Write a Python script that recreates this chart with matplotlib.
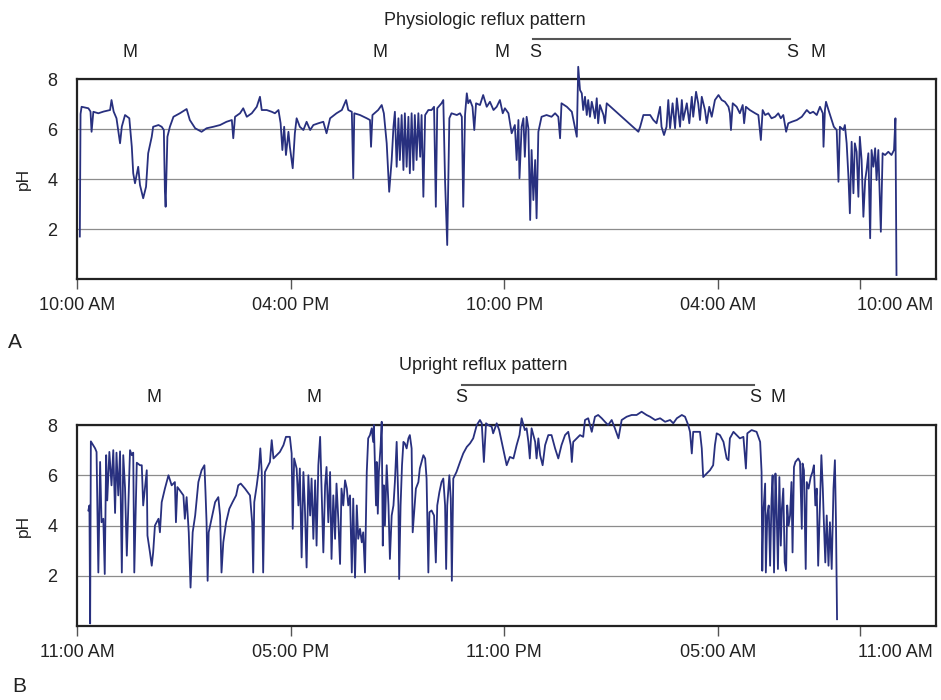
import matplotlib
matplotlib.use("Agg")
import matplotlib.pyplot as plt

plt.rcParams['font.family'] = ['Liberation Sans', 'DejaVu Sans']

############## Data: panel A (physiologic reflux) ##############
# hours since start of recording, pH
hours_a = [
    0.08, 0.10, 0.13, 0.32, 0.38, 0.41, 0.46, 0.60, 0.75, 0.93,
    0.97, 1.03, 1.11, 1.21, 1.26, 1.35, 1.47, 1.54, 1.58, 1.63,
    1.72, 1.77, 1.86, 1.94, 2.00, 2.10, 2.14, 2.29, 2.38, 2.44,
    2.47, 2.49, 2.54, 2.61, 2.71, 2.89, 3.08, 3.17, 3.32, 3.50,
    3.64, 3.83, 4.02, 4.20, 4.35, 4.39, 4.44, 4.58, 4.67, 4.77,
    4.91, 5.05, 5.14, 5.19, 5.33, 5.47, 5.56, 5.66, 5.72, 5.77,
    5.82, 5.87, 5.94, 5.98, 6.06, 6.12, 6.17, 6.26, 6.36, 6.45,
    6.55, 6.64, 6.78, 6.92, 7.01, 7.11, 7.29, 7.44, 7.56, 7.62,
    7.72, 7.76, 7.79,
    7.95, 8.14, 8.23, 8.26, 8.30, 8.46, 8.56, 8.62, 8.70, 8.77,
    8.84, 8.89, 8.93, 8.98, 9.03, 9.07, 9.12, 9.17, 9.21, 9.26,
    9.31, 9.35, 9.40, 9.45, 9.49, 9.54, 9.59, 9.64, 9.68, 9.73,
    9.78, 9.87, 9.96, 10.03, 10.08, 10.12, 10.24, 10.29, 10.34, 10.40,
    10.46, 10.52, 10.67, 10.76, 10.81, 10.85, 10.90, 10.95, 10.99, 11.04,
    11.11, 11.16, 11.21, 11.32, 11.41, 11.51, 11.60, 11.70, 11.79, 11.88,
    11.96, 12.02, 12.12, 12.21, 12.30, 12.35, 12.40, 12.43, 12.49, 12.54,
    12.58, 12.63, 12.68, 12.73, 12.77, 12.82, 12.87, 12.91, 12.96, 13.05,
    13.19, 13.33, 13.43, 13.52, 13.57, 13.61, 13.76, 13.90, 14.04, 14.08,
    14.13, 14.18, 14.22, 14.27, 14.32, 14.36, 14.41, 14.46, 14.50, 14.55,
    14.60, 14.64, 14.69, 14.79, 14.83, 14.88, 15.77, 15.82, 15.91,
    16.10, 16.19, 16.28, 16.38, 16.42, 16.49, 16.56, 16.61, 16.66, 16.73,
    16.80, 16.85, 16.94, 16.99, 17.03, 17.13, 17.20, 17.27, 17.31, 17.39,
    17.45, 17.50, 17.55, 17.64, 17.69, 17.76, 17.83, 17.92, 18.02, 18.11,
    18.20, 18.30, 18.34, 18.37, 18.42, 18.53, 18.62, 18.70, 18.74, 18.79,
    18.90, 19.05, 19.14, 19.21, 19.26, 19.33, 19.42, 19.51, 19.61, 19.70,
    19.77, 19.84, 19.92, 19.98, 20.08, 20.22, 20.36, 20.50, 20.59, 20.68,
    20.78, 20.87, 20.95, 20.97, 21.01, 21.04, 21.11, 21.20, 21.26, 21.34,
    21.39, 21.43, 21.53, 21.57, 21.62, 21.67, 21.71, 21.76, 21.81, 21.85,
    21.90, 21.95, 21.99, 22.04, 22.09, 22.14, 22.18, 22.23, 22.28, 22.32,
    22.37, 22.42, 22.46, 22.51, 22.58, 22.63, 22.70, 22.79, 22.88, 22.95,
    22.99, 23.02,
]
ph_a = [
    1.70, 6.60, 6.89, 6.83, 6.70, 5.89, 6.69, 6.63, 6.70, 6.76,
    7.16, 6.70, 6.43, 5.43, 6.10, 6.56, 6.43, 5.29, 4.23, 3.83,
    4.49, 3.76, 3.23, 3.69, 5.03, 5.69, 6.09, 6.16, 6.09, 5.96,
    3.50, 2.89, 5.69, 6.09, 6.49, 6.63, 6.80, 6.36, 6.03, 5.89,
    6.03, 6.09, 6.16, 6.29, 6.36, 5.63, 6.49, 6.63, 6.83, 6.49,
    6.63, 6.89, 7.29, 6.76, 6.76, 6.69, 6.63, 6.76, 6.23, 5.16,
    6.09, 4.96, 5.89, 5.29, 4.43, 5.83, 6.43, 6.09, 5.96, 6.29,
    5.96, 6.16, 6.23, 6.29, 5.83, 6.43, 6.63, 6.76, 7.16, 6.76,
    6.69, 4.03, 6.63,
    6.56, 6.43, 6.36, 5.29, 6.56, 6.76, 6.96, 6.63, 5.43, 3.49,
    4.76, 6.09, 6.69, 4.49, 6.43, 4.76, 6.56, 4.36, 6.63, 4.49,
    6.49, 4.23, 6.63, 4.36, 6.56, 4.76, 6.63, 4.89, 6.56, 3.29,
    6.56, 6.76, 6.76, 6.89, 2.89, 6.83, 7.03, 7.16, 3.89, 1.36,
    6.43, 6.63, 6.56, 6.63, 6.49, 2.89, 6.56, 7.43, 7.03, 7.16,
    6.89, 5.96, 7.03, 6.96, 7.36, 6.89, 7.09, 6.76, 6.89, 7.16,
    6.63, 6.83, 6.63, 5.83, 6.16, 4.76, 6.36, 4.03, 6.09, 6.43,
    4.89, 6.49, 6.03, 2.36, 5.16, 3.16, 4.76, 2.43, 5.89, 6.49,
    6.56, 6.49, 6.63, 6.49, 5.63, 7.03, 6.89, 6.69, 5.69, 8.49,
    7.56, 7.43, 6.76, 7.29, 6.56, 7.16, 6.49, 7.09, 6.83, 6.43,
    7.23, 6.23, 6.96, 6.56, 6.23, 7.03, 5.89, 6.09, 6.56,
    6.56, 6.36, 6.23, 6.89, 6.09, 5.76, 6.09, 7.16, 6.03, 7.03,
    6.03, 7.23, 6.09, 7.16, 6.36, 7.03, 6.23, 7.29, 6.49, 7.49,
    7.03, 6.36, 7.29, 6.76, 6.23, 6.89, 6.49, 7.16, 7.36, 7.16,
    7.09, 6.89, 6.63, 5.96, 7.03, 6.89, 6.63, 6.96, 6.23, 6.89,
    6.76, 6.63, 6.56, 5.56, 6.76, 6.56, 6.63, 6.43, 6.49, 6.63,
    6.43, 6.56, 5.89, 6.23, 6.29, 6.36, 6.49, 6.76, 6.63, 6.69,
    6.56, 6.89, 6.63, 5.29, 6.76, 7.09, 6.76, 6.36, 6.09, 5.96,
    3.89, 6.09, 5.96, 6.16, 5.43, 4.09, 2.63, 5.49, 3.43, 5.43,
    5.09, 3.29, 5.69, 4.76, 2.49, 3.96, 4.36, 5.03, 1.63, 5.16,
    4.49, 5.23, 3.96, 5.16, 1.89, 5.03, 4.96, 5.09, 4.96, 5.16,
    6.43, 0.16,
]

############## Data: panel B (upright reflux) ##############
hours_b = [
    0.32, 0.35, 0.37, 0.39, 0.51, 0.55, 0.60, 0.65, 0.69, 0.74,
    0.78, 0.82, 0.85, 0.91, 0.97, 1.02, 1.07, 1.11, 1.16, 1.21,
    1.26, 1.30, 1.35, 1.40, 1.49, 1.54, 1.58, 1.61, 1.68, 1.77,
    1.82, 1.86, 1.96, 1.98, 2.05, 2.10, 2.14, 2.19, 2.29, 2.33,
    2.38, 2.47, 2.57, 2.66, 2.75, 2.78, 2.82, 2.89, 2.99, 3.03,
    3.08, 3.14, 3.19, 3.25, 3.32, 3.41, 3.50, 3.58, 3.61, 3.64,
    3.67, 3.70, 3.78, 3.88, 3.97, 4.02, 4.06, 4.11, 4.19, 4.28,
    4.37, 4.47, 4.53, 4.60, 4.72, 4.86, 4.92, 4.95, 4.98, 5.05,
    5.11, 5.15, 5.19, 5.23, 5.28, 5.42, 5.47, 5.52, 5.61, 5.70,
    5.80, 5.87, 5.98, 6.03, 6.06, 6.10, 6.17, 6.22, 6.26, 6.31,
    6.36, 6.40, 6.45, 6.50, 6.55, 6.59, 6.64, 6.69, 6.73, 6.78,
    6.83, 6.87, 6.92, 6.97, 7.01, 7.06, 7.11, 7.15, 7.20, 7.25,
    7.29, 7.34, 7.39, 7.43, 7.48, 7.53, 7.58, 7.62, 7.67, 7.72,
    7.76, 7.81, 7.86, 7.90, 7.95,
    8.00, 8.04, 8.09, 8.14, 8.18, 8.23, 8.28, 8.32, 8.34, 8.37,
    8.40, 8.42, 8.45, 8.48, 8.53, 8.56, 8.59, 8.62, 8.65, 8.70,
    8.75, 8.79, 8.84, 8.89, 8.93, 8.98, 9.03, 9.05, 9.09, 9.13,
    9.17, 9.21, 9.26, 9.31, 9.35, 9.40, 9.43, 9.47, 9.52, 9.59,
    9.63, 9.73, 9.78, 9.82, 9.87, 9.90, 9.96, 10.03, 10.08, 10.12,
    10.18, 10.24, 10.29, 10.34, 10.37, 10.40, 10.46, 10.50, 10.53, 10.57,
    10.66, 10.76, 10.85, 10.95, 11.04, 11.13, 11.23, 11.32, 11.37, 11.43,
    11.49, 11.55, 11.65, 11.69, 11.79, 11.86, 11.93, 11.99, 12.07, 12.16,
    12.26, 12.35, 12.43, 12.49, 12.54, 12.58, 12.63, 12.68, 12.72, 12.77,
    12.82, 12.87, 12.91, 12.96, 13.01, 13.08, 13.15, 13.24, 13.33, 13.43,
    13.52, 13.61, 13.71, 13.80, 13.87, 13.90, 13.94, 14.04, 14.13, 14.22,
    14.27, 14.36, 14.46, 14.55, 14.64, 14.74, 14.83, 14.92, 15.02, 15.11,
    15.21, 15.30, 15.44, 15.58, 15.72, 15.86, 16.00,
    16.10, 16.24, 16.38, 16.52, 16.66, 16.75, 16.85, 16.99, 17.08, 17.17,
    17.22, 17.27, 17.31, 17.50, 17.55, 17.59, 17.69, 17.78, 17.87, 17.92,
    17.97, 18.06, 18.16, 18.25, 18.30, 18.34, 18.44, 18.53, 18.62, 18.72,
    18.79, 18.83, 18.95, 19.09, 19.19, 19.23, 19.25, 19.28, 19.33, 19.35,
    19.39, 19.43, 19.47, 19.51, 19.54, 19.58, 19.62, 19.65, 19.69, 19.73,
    19.77, 19.80, 19.84, 19.88, 19.92, 19.95, 19.99, 20.03, 20.07, 20.10,
    20.14, 20.18, 20.22, 20.26, 20.31, 20.36, 20.38, 20.42, 20.47, 20.50,
    20.55, 20.61, 20.66, 20.70, 20.74, 20.78, 20.82, 20.87, 20.91, 20.95,
    20.98, 21.02, 21.06, 21.11, 21.15, 21.20, 21.25, 21.29, 21.32, 21.35,
]
ph_b = [
    4.60, 4.80, 0.10, 7.35, 7.07, 6.93, 2.13, 6.53, 4.13, 4.27,
    2.07, 6.80, 5.00, 6.93, 5.60, 7.00, 4.50, 6.90, 5.20, 6.95,
    2.13, 6.80, 5.50, 2.80, 7.00, 6.80, 6.90, 2.13, 6.50, 6.40,
    6.40, 4.80, 6.20, 3.60, 2.93, 2.40, 2.93, 4.00, 4.27, 3.73,
    4.93, 5.47, 6.00, 5.60, 5.73, 4.13, 5.53, 5.40, 5.20, 4.27,
    5.13, 3.73, 1.53, 3.73, 4.40, 5.73, 6.20, 6.40, 5.33, 4.13,
    1.80, 3.73, 4.27, 4.93, 5.13, 4.40, 2.13, 3.33, 4.13, 4.67,
    4.93, 5.20, 5.60, 5.67, 5.47, 5.20, 4.13, 2.13, 4.93, 5.60,
    6.27, 7.07, 6.13, 2.13, 6.13, 6.53, 7.40, 6.67, 6.80, 6.93,
    7.20, 7.53, 7.53, 6.87, 3.87, 6.67, 6.27, 4.80, 6.27, 2.73,
    6.13, 4.80, 2.33, 6.00, 4.40, 5.87, 3.47, 5.80, 3.20, 6.40,
    7.53, 5.47, 2.93, 5.60, 6.33, 4.13, 6.13, 2.67, 5.20, 3.47,
    5.67, 4.27, 2.47, 5.47, 4.80, 5.80, 5.47, 4.80, 5.20, 2.13,
    5.07, 1.93, 4.80, 3.47, 3.87,
    3.33, 3.73, 2.13, 6.13, 7.47, 7.60, 7.87, 7.33, 8.00, 6.40,
    4.80, 6.53, 4.47, 6.13, 7.20, 8.13, 3.20, 5.60, 4.00, 6.40,
    4.80, 2.67, 4.40, 4.80, 5.73, 7.33, 4.80, 1.87, 4.80, 6.40,
    7.33, 7.27, 7.07, 7.47, 7.60, 7.07, 3.73, 4.53, 5.47, 5.73,
    6.27, 6.80, 6.67, 5.87, 2.13, 4.53, 4.60, 4.40, 2.53, 4.80,
    5.33, 5.73, 5.87, 4.80, 2.27, 4.80, 6.00, 5.07, 1.80, 5.87,
    6.13, 6.53, 6.87, 7.13, 7.27, 7.47, 8.00, 8.20, 8.07, 6.53,
    8.07, 8.00, 7.93, 7.67, 8.07, 7.80, 7.33, 6.93, 6.40, 6.73,
    6.67, 7.20, 7.60, 8.27, 8.00, 7.80, 7.87, 7.33, 6.67, 7.87,
    7.60, 7.33, 6.67, 7.47, 6.80, 6.40, 7.20, 7.60, 7.60, 7.07,
    6.67, 7.20, 7.60, 7.73, 7.20, 6.53, 7.33, 7.47, 7.60, 7.53,
    8.20, 8.27, 7.73, 8.33, 8.40, 8.27, 8.13, 8.00, 8.20, 7.87,
    7.47, 8.20, 8.33, 8.40, 8.40, 8.53, 8.40,
    8.33, 8.20, 8.27, 8.13, 8.20, 8.07, 8.27, 8.40, 8.33, 8.00,
    7.73, 6.87, 7.73, 7.73, 7.07, 5.93, 6.07, 6.20, 6.40, 7.20,
    7.67, 7.60, 7.33, 6.67, 6.60, 7.47, 7.73, 7.60, 7.47, 7.53,
    6.27, 7.67, 7.80, 7.73, 7.33, 6.13, 2.20, 4.53, 5.67, 2.13,
    4.40, 4.80, 2.40, 5.07, 6.00, 2.13, 6.07, 4.80, 2.27, 5.93,
    3.20, 4.67, 5.47, 2.53, 2.20, 4.80, 4.00, 4.40, 5.73, 2.93,
    6.33, 6.53, 6.60, 6.67, 6.53, 3.87, 6.47, 6.20, 2.27, 5.73,
    5.47, 5.93, 6.13, 6.40, 4.80, 5.47, 2.40, 4.80, 6.80, 5.47,
    4.13, 2.53, 4.40, 2.40, 4.13, 2.27, 5.47, 6.60, 4.13, 0.27,
]

############## Axis labels and event marks ##############
tick_hours = [0, 6, 12, 18, 22]
labels_a = ["10:00 AM", "04:00 PM", "10:00 PM", "04:00 AM", "10:00 AM"]
labels_b = ["11:00 AM", "05:00 PM", "11:00 PM", "05:00 AM", "11:00 AM"]

event_text_a = ["M", "M", "M", "S", "S", "M"]
event_hours_a = [1.49, 8.51, 11.94, 12.87, 20.08, 20.81]
supine_a = (12.81, 20.03)

event_text_b = ["M", "M", "S", "S", "M"]
event_hours_b = [2.16, 6.66, 10.79, 19.04, 19.69]
supine_b = (10.81, 19.02)

TRACE = "#28307f"


def draw_panel(ax, hours, ph, labels, events, event_hours, supine, title, title_x):
    ax.plot(hours, ph, color=TRACE, lw=1.3, clip_on=False, zorder=3)
    ax.set_xlim(0, 24.13)
    ax.set_ylim(0, 8)

    ax.set_yticks([2, 4, 6, 8])
    ax.set_yticklabels(["2", "4", "6", "8"])
    ax.tick_params(axis="y", length=0, pad=14, labelsize=13, labelcolor="#222222")
    ax.yaxis.grid(True, color="#8c8c8c", lw=0.9)
    ax.set_axisbelow(True)
    ax.set_ylabel("pH", fontsize=12.5, color="#222222", labelpad=12)

    # last label sits to the right of its tick in the original
    ax.set_xticks(tick_hours)
    ax.set_xticklabels(labels[:-1] + [""])
    ax.set_xticks([22.98], minor=True)
    ax.set_xticklabels([labels[-1]], minor=True)
    ax.tick_params(axis="x", which="major", direction="out", length=7, width=1,
                   color="#555555", pad=6, labelsize=13, labelcolor="#222222")
    ax.tick_params(axis="x", which="minor", length=0, pad=13, labelsize=13,
                   labelcolor="#222222")

    for sp in ax.spines.values():
        sp.set_linewidth(1.6)
        sp.set_color("#222222")

    tr = ax.get_xaxis_transform()
    for txt, h in zip(events, event_hours):
        ax.text(h, 1.135, txt, transform=tr, ha="center", va="center",
                fontsize=13, color="#222222")
    ax.plot(supine, [1.20, 1.20], transform=tr, color="#555555", lw=1.5,
            clip_on=False)
    ax.text(title_x, 1.295, title, transform=tr, ha="center", va="center",
            fontsize=13, color="#222222")


fig = plt.figure(figsize=(9.41, 7.0), dpi=100)
ax_a = fig.add_axes([0.0818, 0.6014, 0.9129, 0.2857])
ax_b = fig.add_axes([0.0818, 0.1057, 0.9129, 0.2871])

draw_panel(ax_a, hours_a, ph_a, labels_a, event_text_a, event_hours_a,
           supine_a, "Physiologic reflux pattern", 11.46)
draw_panel(ax_b, hours_b, ph_b, labels_b, event_text_b, event_hours_b,
           supine_b, "Upright reflux pattern", 11.40)

fig.text(0.016, 0.51, "A", ha="center", va="center", fontsize=15, color="#222222")
fig.text(0.020, 0.020, "B", ha="center", va="center", fontsize=15, color="#222222")

fig.savefig("out.png", dpi=100)
